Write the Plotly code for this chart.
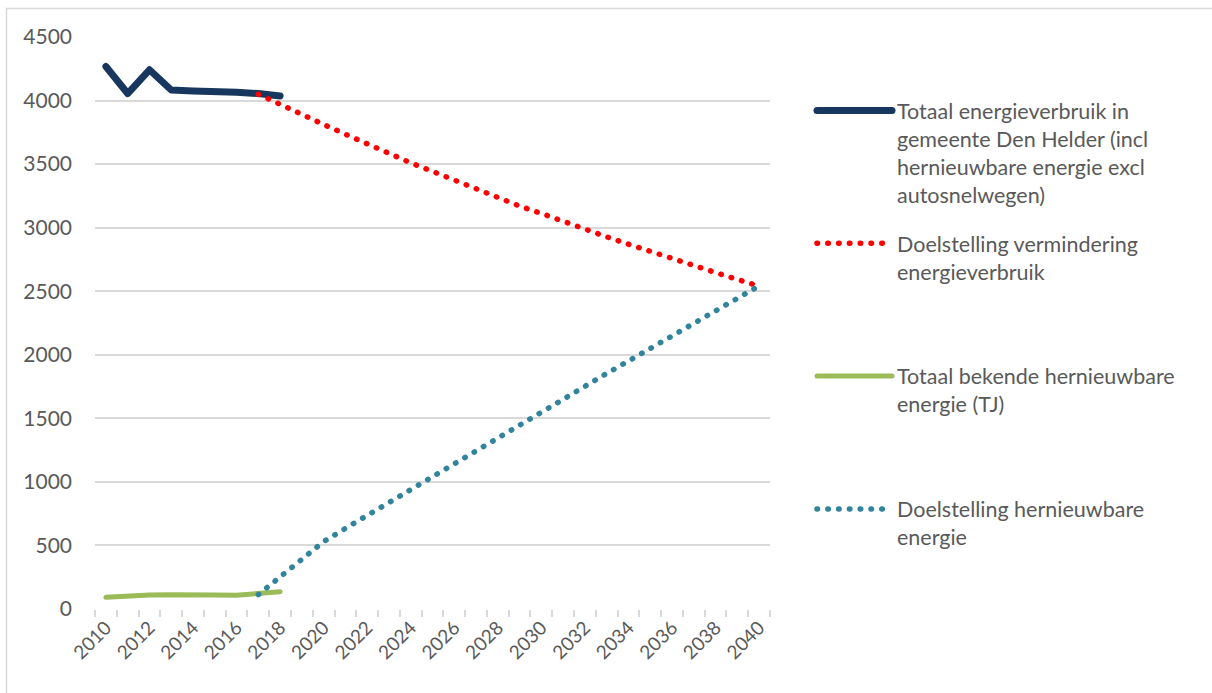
import plotly.graph_objects as go

years_actual = [2010, 2011, 2012, 2013, 2014, 2015, 2016, 2017, 2018]
totaal_verbruik = [4268, 4055, 4242, 4083, 4075, 4073, 4065, 4055, 4036]
hernieuwbaar = [92, 105, 110, 113, 115, 110, 108, 121, 136]

years_target = list(range(2017, 2041))
doel_verbruik = [4050, 3967, 3890, 3812, 3735, 3658, 3586, 3510, 3443, 3373, 3306, 3238,
                 3170, 3112, 3048, 2987, 2928, 2870, 2812, 2755, 2700, 2647, 2593, 2540]
doel_hernieuwbaar = [113, 250, 390, 530, 634, 736, 838, 943, 1048, 1146, 1250, 1354,
                     1455, 1555, 1655, 1755, 1853, 1951, 2050, 2150, 2248, 2347, 2447, 2543]

names = [
    "Totaal energieverbruik in<br>gemeente Den Helder (incl<br>hernieuwbare energie excl<br>autosnelwegen)",
    "Doelstelling vermindering<br>energieverbruik<br> <br> ",
    "Totaal bekende hernieuwbare<br>energie (TJ)<br> <br> ",
    "Doelstelling hernieuwbare<br>energie<br> <br> ",
]

tick_years = list(range(2010, 2041, 2))
y_ticks = list(range(0, 4501, 500))

FONT = "Lato"
TXT = "#595959"
GRID = "#d9d9d9"
DOTS = "0.5px,10.3px"

fig = go.Figure()
fig.add_trace(go.Scatter(x=years_actual, y=totaal_verbruik, mode="lines", name=names[0],
                         legendgroup="a", line=dict(color="#17375E", width=7)))
fig.add_trace(go.Scatter(x=years_target, y=doel_verbruik, mode="lines", name=names[1],
                         legendgroup="b", line=dict(color="#FF0000", width=5.5, dash=DOTS)))
fig.add_trace(go.Scatter(x=years_actual, y=hernieuwbaar, mode="lines", name=names[2],
                         legendgroup="c", line=dict(color="#9BBB59", width=5)))
fig.add_trace(go.Scatter(x=years_target, y=doel_hernieuwbaar, mode="lines", name=names[3],
                         legendgroup="d", line=dict(color="#31849B", width=5.5, dash=DOTS)))

W, H = 1212, 693
L, R, T, B = 95, 770, 37, 609
pw, ph = R - L, B - T

def px(x):
    return (x - L) / pw

def py(y):
    return (B - y) / ph

fig.update_layout(
    width=W, height=H,
    margin=dict(l=L, r=W - R, t=T, b=H - B, pad=0),
    paper_bgcolor="white", plot_bgcolor="white",
    font=dict(family=FONT, size=21, color=TXT),
    showlegend=True,
    legend=dict(x=px(812), y=py(90), xanchor="left", yanchor="top",
                valign="top", tracegroupgap=18, itemwidth=75,
                font=dict(family=FONT, size=21.5, color=TXT),
                bgcolor="rgba(0,0,0,0)"),
    xaxis=dict(range=[2009.5, 2040.5], tickmode="array", tickvals=tick_years,
               ticktext=[str(v) for v in tick_years], tickangle=-45, ticks="",
               showgrid=False, zeroline=False, showline=False,
               tickfont=dict(family=FONT, size=19, color=TXT),
               minor=dict(ticks="outside", tickmode="linear", tick0=2009.5, dtick=1,
                          ticklen=7, tickcolor=GRID, tickwidth=1.5, showgrid=False),
               ticklabelstandoff=3),
    yaxis=dict(range=[0, 4500], tickmode="array", tickvals=y_ticks,
               showgrid=True, gridcolor=GRID, gridwidth=1.5, zeroline=False,
               showline=False, ticks="", ticklabelstandoff=22,
               tickfont=dict(family=FONT, size=21, color=TXT)),
    shapes=[dict(type="rect", xref="paper", yref="paper",
                 x0=px(6.5), x1=px(1230), y0=py(710), y1=py(8.5),
                 line=dict(color=GRID, width=1.5), fillcolor="rgba(0,0,0,0)", layer="below")],
)

post = """
document.body.style.margin='0';
var gd = document.getElementById('{plot_id}');
gd.querySelectorAll('.scatterlayer path.js-line, .legend path.js-line').forEach(function(p){
  p.style.strokeLinecap = 'round';
  p.style.strokeLinejoin = 'round';
});
"""

fig.write_html("out.html", config={"displayModeBar": False}, post_script=post)
